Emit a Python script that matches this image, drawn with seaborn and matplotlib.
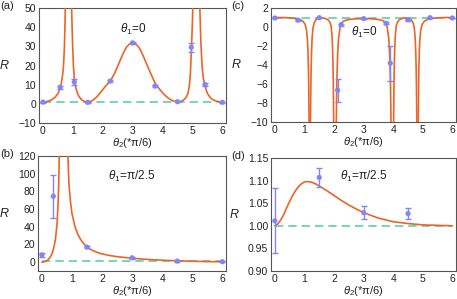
import numpy as np
import pandas as pd
import matplotlib
matplotlib.use('Agg')
import matplotlib.pyplot as plt
import seaborn as sns

sns.set_theme(style='white')
plt.rcParams['font.family'] = ['Liberation Sans', 'DejaVu Sans']
plt.rcParams['mathtext.fontset'] = 'custom'
plt.rcParams['mathtext.it'] = 'Liberation Sans:italic'
plt.rcParams['mathtext.rm'] = 'Liberation Sans'

ORANGE = '#ec6426'
BLUE = '#8285f7'
GREEN = '#5ed0a8'

# ---------------- panel (a) ----------------
a_c1_x = [0.0, 0.1, 0.2, 0.3, 0.4, 0.5, 0.55, 0.6, 0.65, 0.68, 0.7, 0.72, 0.74, 0.75, 0.76]
a_c1_y = [1.0, 1.1, 1.5, 2.2, 3.3, 5.3, 7.0, 9.5, 14.0, 18.0, 23.0, 30.0, 42.0, 52.0, 63.0]
a_c2_x = [0.94, 0.96, 0.98, 1.0, 1.02, 1.05, 1.1, 1.15, 1.2, 1.3, 1.4, 1.5, 1.6, 1.7, 1.8, 1.9,
          2.0, 2.1, 2.25, 2.4, 2.5, 2.6, 2.7, 2.8, 2.9, 3.0, 3.1, 3.2, 3.3, 3.4, 3.5, 3.6,
          3.75, 3.9, 4.0, 4.1, 4.2, 4.3, 4.4, 4.5, 4.6, 4.7, 4.75, 4.8, 4.85, 4.9, 4.93,
          4.96, 4.98, 5.0, 5.02, 5.03]
a_c2_y = [62.0, 50.0, 38.0, 28.0, 20.0, 13.0, 8.5, 5.8, 4.0, 2.0, 1.2, 1.0, 1.3, 2.2, 3.6, 5.4,
          7.4, 9.3, 11.8, 16.0, 19.6, 23.3, 26.9, 29.7, 31.3, 31.9, 31.3, 29.7, 26.9, 23.3, 19.6, 16.0,
          10.8, 7.6, 5.8, 4.2, 2.9, 1.9, 1.3, 1.0, 1.2, 2.0, 2.7, 3.7, 5.5, 10.0, 16.0,
          27.0, 35.0, 44.0, 56.0, 63.0]
a_c3_x = [5.23, 5.25, 5.28, 5.32, 5.36, 5.42, 5.46, 5.5, 5.6, 5.7, 5.8, 5.9, 6.0]
a_c3_y = [62.0, 48.0, 32.0, 20.0, 13.5, 9.6, 7.2, 5.4, 3.1, 2.0, 1.4, 1.1, 1.0]
a_pt_x = [0.0, 0.58, 1.05, 1.5, 2.25, 3.0, 3.75, 4.5, 4.96, 5.42, 6.0]
a_pt_y = [0.9, 8.7, 11.4, 0.8, 11.9, 31.8, 9.3, 1.1, 29.5, 10.0, 0.8]
a_pt_e = [0.3, 0.8, 1.5, 0.3, 0.6, 0.6, 0.6, 0.4, 2.2, 0.8, 0.3]

# ---------------- panel (c) ----------------
c_c1_x = [0.0, 0.2, 0.4, 0.6, 0.75, 0.85, 0.95, 1.02, 1.07, 1.1, 1.12, 1.135, 1.145, 1.155, 1.16]
c_c1_y = [1.0, 1.0, 0.98, 0.93, 0.86, 0.78, 0.6, 0.3, -0.3, -1.3, -2.6, -4.5, -6.5, -9.5, -12.0]
c_c2_x = [1.2, 1.205, 1.215, 1.225, 1.24, 1.26, 1.29, 1.33, 1.4, 1.5, 1.6, 1.7, 1.8, 1.86,
          1.9, 1.93, 1.95, 1.965, 1.975, 1.985, 1.99]
c_c2_y = [-12.0, -9.5, -6.5, -4.5, -2.6, -1.1, -0.1, 0.45, 0.8, 0.95, 0.96, 0.9, 0.75, 0.5,
          0.1, -0.9, -2.2, -4.0, -6.0, -9.0, -12.0]
c_c3_x = [2.07, 2.08, 2.09, 2.1, 2.12, 2.15, 2.2, 2.25, 2.32, 2.45, 2.6, 2.8, 3.0, 3.2, 3.4,
          3.55, 3.68, 3.75, 3.8, 3.85, 3.88, 3.9, 3.91, 3.92, 3.93]
c_c3_y = [-12.0, -9.0, -6.7, -5.0, -3.0, -1.3, -0.1, 0.4, 0.62, 0.76, 0.83, 0.87, 0.88, 0.87, 0.83,
          0.76, 0.62, 0.4, -0.1, -1.3, -3.0, -5.0, -6.7, -9.0, -12.0]
c_c4_x = [4.01, 4.015, 4.025, 4.035, 4.05, 4.07, 4.1, 4.14, 4.2, 4.3, 4.4, 4.5, 4.6, 4.67,
          4.71, 4.74, 4.76, 4.775, 4.785, 4.795, 4.8]
c_c4_y = [-12.0, -9.0, -6.0, -4.0, -2.2, -0.9, 0.1, 0.5, 0.75, 0.9, 0.96, 0.95, 0.8, 0.45,
          -0.1, -1.1, -2.6, -4.5, -6.5, -9.5, -12.0]
c_c5_x = [4.84, 4.845, 4.855, 4.865, 4.88, 4.9, 4.93, 4.98, 5.05, 5.15, 5.25, 5.4, 5.6, 5.8, 6.0]
c_c5_y = [-12.0, -9.5, -6.5, -4.5, -2.6, -1.3, -0.3, 0.3, 0.6, 0.78, 0.86, 0.93, 0.98, 1.0, 1.0]
c_pt_x = [0.0, 0.78, 1.5, 2.12, 2.24, 3.0, 3.76, 3.9, 4.49, 5.24, 6.0]
c_pt_y = [0.95, 0.72, 0.98, -6.65, 0.25, 0.88, 0.38, -3.8, 0.77, 0.98, 0.95]
c_pt_e = [0.05, 0.1, 0.08, 1.2, 0.1, 0.05, 0.1, 1.85, 0.1, 0.05, 0.05]

# ---------------- panel (b) ----------------
b_c1_x = [0.0, 0.1, 0.2, 0.3, 0.35, 0.4, 0.45, 0.5, 0.53, 0.56, 0.58]
b_c1_y = [0.0, 0.5, 2.5, 7.0, 11.0, 17.0, 26.0, 42.0, 60.0, 90.0, 125.0]
b_c2_x = [0.86, 0.88, 0.9, 0.95, 1.0, 1.1, 1.2, 1.3, 1.4, 1.5, 1.7, 1.9, 2.2, 2.5, 3.0,
          3.5, 4.0, 4.5, 5.0, 5.5, 6.0]
b_c2_y = [125.0, 105.0, 88.0, 68.0, 55.0, 40.0, 31.0, 25.0, 20.5, 16.5, 13.0, 10.2, 7.8, 6.2, 4.4,
          3.1, 2.2, 1.5, 1.0, 0.6, 0.4]
b_pt_x = [0.0, 0.38, 1.5, 3.0, 4.5, 6.0]
b_pt_y = [8.2, 74.5, 17.0, 5.0, 1.2, 0.5]
b_pt_e = [2.2, 24.3, 1.5, 1.0, 0.8, 0.6]

# ---------------- panel (d) ----------------
d_c1_x = [0.0, 0.1, 0.2, 0.3, 0.4, 0.5, 0.6, 0.7, 0.8, 0.9, 1.0, 1.1, 1.2, 1.3, 1.4, 1.5,
          1.75, 2.0, 2.25, 2.5, 2.75, 3.0, 3.25, 3.5, 3.75, 4.0, 4.5, 5.0, 5.5, 6.0]
d_c1_y = [1.000, 1.004, 1.013, 1.025, 1.040, 1.054, 1.067, 1.078, 1.087, 1.093, 1.097, 1.098,
          1.097, 1.095, 1.092, 1.088, 1.078, 1.067, 1.056, 1.046, 1.037, 1.029, 1.023, 1.017,
          1.013, 1.009, 1.005, 1.002, 1.001, 1.000]
d_pt_x = [0.0, 1.5, 3.0, 4.5]
d_pt_y = [1.011, 1.107, 1.029, 1.027]
d_pt_e = [0.072, 0.021, 0.015, 0.013]

base_x = [0.0, 6.0]
base_y = [1.0, 1.0]

a_yticks = [-10, 0, 10, 20, 30, 40, 50]
b_yticks = [0, 20, 40, 60, 80, 100, 120]
c_yticks = [-10, -8, -6, -4, -2, 0, 2]
d_yticks = [0.90, 0.95, 1.00, 1.05, 1.10, 1.15]
xticks = [0, 1, 2, 3, 4, 5, 6]


def curve_df(segs):
    rows = []
    for i, (xs, ys) in enumerate(segs):
        for x, y in zip(xs, ys):
            rows.append((x, y, i))
    return pd.DataFrame(rows, columns=['x', 'y', 'seg'])


W, H = 457, 299
fig = plt.figure(figsize=(W / 100, H / 100), dpi=100)


def make_ax(l, t, r, b):
    return fig.add_axes([l / W, 1 - b / H, (r - l) / W, (b - t) / H])


def draw(ax, segs, px, py, pe, ylim, yticks, label, lx, ly, fmt=None):
    ax.set_facecolor('white')
    sns.lineplot(x=base_x, y=base_y, ax=ax, color=GREEN, lw=1.2, linestyle=(0, (5, 3)), zorder=2)
    df = curve_df(segs)
    sns.lineplot(data=df, x='x', y='y', units='seg', estimator=None, sort=False,
                 color=ORANGE, lw=1.2, ax=ax, zorder=3)
    ax.errorbar(px, py, yerr=pe, fmt='none', ecolor=BLUE, elinewidth=1.0, capsize=2.5,
                capthick=1.0, zorder=4)
    sns.scatterplot(x=px, y=py, color=BLUE, s=14, edgecolor='none', ax=ax, zorder=5)
    ax.set_xlim(-0.13, 6.12)
    ax.set_ylim(*ylim)
    ax.set_xticks(xticks)
    ax.set_yticks(yticks)
    if fmt:
        ax.set_yticklabels([fmt.format(v) for v in yticks])
    ax.tick_params(direction='in', length=2.5, width=0.7, labelsize=7.5, pad=2,
                   colors='#333333', labelcolor='#222222')
    for s in ax.spines.values():
        s.set_color('#555555')
        s.set_linewidth(0.8)
    ax.set_xlabel(r'$\theta_2$(*π/6)', fontsize=8, labelpad=0, color='#222222')
    ax.set_ylabel(r'$R$', fontsize=9, rotation=0, labelpad=10, color='#222222', va='center')
    ax.text(lx, ly, label, fontsize=8.5, ha='center', va='center', color='#222222')


ax_a = make_ax(39, 8, 226, 123)
draw(ax_a, [(a_c1_x, a_c1_y), (a_c2_x, a_c2_y), (a_c3_x, a_c3_y)],
     a_pt_x, a_pt_y, a_pt_e, (-10, 50), a_yticks, r'$\theta_1$=0', 3.0, 39)

ax_c = make_ax(271, 8, 456, 122)
draw(ax_c, [(c_c1_x, c_c1_y), (c_c2_x, c_c2_y), (c_c3_x, c_c3_y), (c_c4_x, c_c4_y), (c_c5_x, c_c5_y)],
     c_pt_x, c_pt_y, c_pt_e, (-10, 2), c_yticks, r'$\theta_1$=0', 3.0, -0.6)

ax_b = make_ax(38, 156, 226, 271)
draw(ax_b, [(b_c1_x, b_c1_y), (b_c2_x, b_c2_y)],
     b_pt_x, b_pt_y, b_pt_e, (-10, 120), b_yticks, r'$\theta_1$=π/2.5', 3.0, 97)

ax_d = make_ax(271, 158, 456, 271)
draw(ax_d, [(d_c1_x, d_c1_y)],
     d_pt_x, d_pt_y, d_pt_e, (0.90, 1.15), d_yticks, r'$\theta_1$=π/2.5', 3.0, 1.11, fmt='{:.2f}')

for txt, x, y in [('(a)', 0, 6), ('(c)', 231, 6), ('(b)', 0, 154), ('(d)', 231, 156)]:
    fig.text(x / W, 1 - y / H, txt, fontsize=8, ha='left', va='center', color='#222222')

fig.savefig('out.png', dpi=100)
